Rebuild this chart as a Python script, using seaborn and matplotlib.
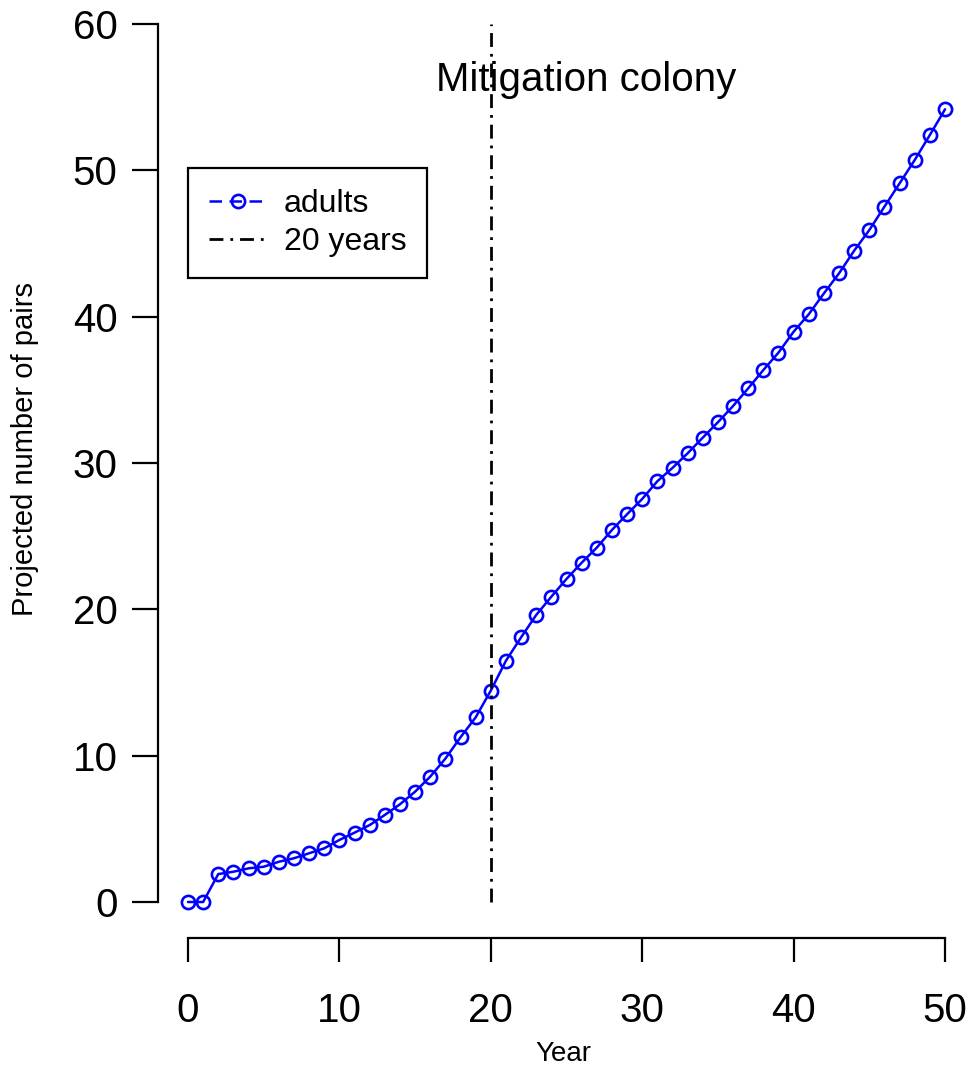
import matplotlib
matplotlib.use("Agg")
import matplotlib.pyplot as plt
import seaborn as sns

# projected adult pairs per year
years = list(range(0, 51))
adults = [0.0, 0.0, 1.91, 2.07, 2.30, 2.41, 2.75, 2.99, 3.33, 3.67,
          4.24, 4.74, 5.26, 5.95, 6.68, 7.54, 8.57, 9.80, 11.26, 12.62,
          14.45, 16.49, 18.09, 19.62, 20.87, 22.08, 23.19, 24.22, 25.43, 26.50,
          27.55, 28.76, 29.67, 30.67, 31.74, 32.79, 33.90, 35.11, 36.36, 37.55,
          38.98, 40.17, 41.60, 42.97, 44.52, 45.93, 47.53, 49.12, 50.72, 52.43,
          54.18]
cutoff_year = 20
cutoff_range = [0, 60]
x_ticks = [0, 10, 20, 30, 40, 50]
y_ticks = [0, 10, 20, 30, 40, 50, 60]

sns.set_style("ticks")
plt.rcParams['font.family'] = ['Liberation Sans', 'DejaVu Sans']
plt.rcParams['text.color'] = 'black'
plt.rcParams['axes.labelcolor'] = 'black'

fig = plt.figure(figsize=(9.72, 10.70), dpi=100)
ax = fig.add_axes([158/972, 132/1070, (972-158)/972, 938/1070])

sns.lineplot(x=years, y=adults, ax=ax, color="blue", linewidth=1.8,
             marker="o", markersize=9.5, markerfacecolor="none",
             markeredgecolor="blue", markeredgewidth=1.9, label="adults")
ax.vlines(cutoff_year, cutoff_range[0], cutoff_range[1], colors="black",
          linewidth=2.0, linestyles=(0, (5, 2.5, 1, 2.5)), label="20 years")

ax.text(26.3, 56.2, "Mitigation colony", fontsize=29, ha="center", va="center")

ax.set_xlim(-1.98, 51.78)
ax.set_ylim(-2.46, 61.65)
ax.set_xticks(x_ticks)
ax.set_yticks(y_ticks)
for s in ["top", "right"]:
    ax.spines[s].set_visible(False)
ax.spines["left"].set_bounds(0, 60)
ax.spines["bottom"].set_bounds(0, 50)
for s in ["left", "bottom"]:
    ax.spines[s].set_linewidth(1.6)
    ax.spines[s].set_color("black")
ax.tick_params(axis="y", length=19, width=1.6, pad=10, labelsize=29, colors="black")
ax.tick_params(axis="x", length=17, width=1.6, pad=22, labelsize=29, colors="black")

ax.set_xlabel("Year", fontsize=20)
ax.set_ylabel("Projected number of pairs", fontsize=21)
ax.xaxis.set_label_coords((563-158)/814, -(1054-938)/938)
ax.yaxis.set_label_coords(-(158-25)/814, (938-449)/938)
ax.xaxis.label.set_va("center")
ax.yaxis.label.set_va("center")

leg = ax.legend(loc="upper left", bbox_to_anchor=(188/972, 1-168/1070),
                bbox_transform=fig.transFigure, borderaxespad=0,
                fontsize=23, frameon=True, fancybox=False, framealpha=1,
                handlelength=1.8, handletextpad=0.55, borderpad=0.65,
                labelspacing=0.25)
leg.get_frame().set_edgecolor("black")
leg.get_frame().set_linewidth(1.6)
leg.get_lines()[0].set_linestyle((0, (5, 3)))

fig.savefig("out.png", dpi=100)
